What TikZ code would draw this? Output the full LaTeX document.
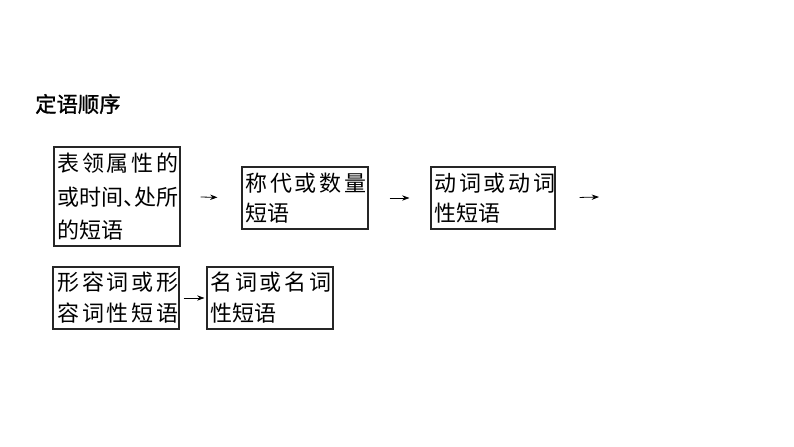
\documentclass[tikz,border=0pt]{standalone}
\usepackage{fontspec}
\newfontfamily\cjk{Noto Sans CJK SC}
\newfontfamily\cjktitle[FakeBold=1.2]{Noto Sans CJK SC}
\usetikzlibrary{arrows.meta}
\tikzset{
  box/.style={draw=black!85, line width=0.8pt, inner sep=0pt, minimum height=46.5pt},
  ln/.style={anchor=west, inner sep=0pt, font=\cjk\fontsize{16.5}{18}\selectfont},
  conn/.style={draw=black, line width=0.6pt, -{Stealth[length=5.5pt,width=4pt]}}
}
\newcommand\spreadline[1]{\makebox[90.75pt][s]{#1}}
\begin{document}
\begin{tikzpicture}[x=0.75pt,y=-0.75pt]
\useasboundingbox (0,0) rectangle (794,447);
\node[anchor=west, inner sep=0pt, font=\cjktitle\fontsize{16}{18}\selectfont] (title) at (35,104) {定语顺序};
% boxes
\node[box, minimum width=94.5pt, minimum height=74.25pt] (b1) at (117,196.5) {};
\node[box, minimum width=94.5pt] (b2) at (305,198) {};
\node[box, minimum width=93pt] (b3) at (493,198) {};
\node[box, minimum width=94.5pt] (b4) at (116,298) {};
\node[box, minimum width=94.5pt] (b5) at (270,298) {};
% texts
\node[ln] (t11) at (57,163) {\spreadline{表\hfill 领\hfill 属\hfill 性\hfill 的}};
\node[ln] (t12) at (57,197) {\spreadline{或\hfill 时\hfill 间\makebox[8.25pt][l]{、}\hfill 处\hfill 所}};
\node[ln] (t13) at (57,230) {的短语};
\node[ln] (t21) at (245,183) {\spreadline{称\hfill 代\hfill 或\hfill 数\hfill 量}};
\node[ln] (t22) at (245,213) {短语};
\node[ln] (t31) at (434,183) {\spreadline{动\hfill 词\hfill 或\hfill 动\hfill 词}};
\node[ln] (t32) at (434,213) {性短语};
\node[ln] (t41) at (57,282) {\spreadline{形\hfill 容\hfill 词\hfill 或\hfill 形}};
\node[ln] (t42) at (57,313) {\spreadline{容\hfill 词\hfill 性\hfill 短\hfill 语}};
\node[ln] (t51) at (210,282) {\spreadline{名\hfill 词\hfill 或\hfill 名\hfill 词}};
\node[ln] (t52) at (210,313) {性短语};
% connectors
\coordinate (e3) at (599,197);
\draw[conn, shorten <=15pt, shorten >=18pt] (b1.east) -- (b2.west);
\draw[conn, shorten <=15.75pt, shorten >=15.75pt] (b2.east) -- (b3.west);
\draw[conn, shorten <=18pt] (b3.east) -- (e3);
\draw[conn, shorten <=3pt, shorten >=1.5pt] (b4.east) -- (b5.west);
\end{tikzpicture}
\end{document}
